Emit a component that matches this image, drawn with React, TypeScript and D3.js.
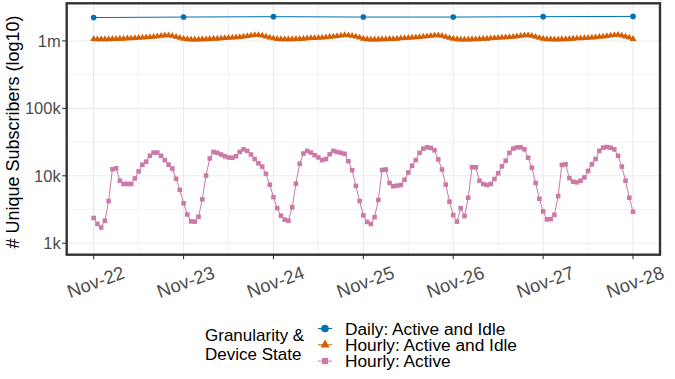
import React from 'react';
import * as d3 from 'd3';

// tick labels / categories
const dayLabels = ['Nov-22', 'Nov-23', 'Nov-24', 'Nov-25', 'Nov-26', 'Nov-27', 'Nov-28'];
const yTickValues = [1e3, 1e4, 1e5, 1e6];
const yTickLabels = ['1k', '10k', '100k', '1m'];
const seriesNames = ['Daily: Active and Idle', 'Hourly: Active and Idle', 'Hourly: Active'];
const seriesColors = ['#0072B2', '#D55E00', '#CC79A7'];

// daily, one value per day (subscribers)
const dailyActiveIdle = [2.22e6, 2.26e6, 2.29e6, 2.26e6, 2.26e6, 2.29e6, 2.31e6];

// hourly active and idle, millions
const hourlyActiveIdle = [
  1.07, 1.06, 1.06, 1.06, 1.06, 1.07, 1.07, 1.08, 1.08, 1.09, 1.09, 1.10, 1.11, 1.12, 1.13, 1.14, 1.15, 1.17, 1.19, 1.21, 1.21, 1.19, 1.15, 1.11,
  1.08, 1.06, 1.05, 1.05, 1.05, 1.06, 1.06, 1.07, 1.08, 1.08, 1.09, 1.10, 1.11, 1.12, 1.13, 1.14, 1.16, 1.18, 1.20, 1.22, 1.22, 1.20, 1.16, 1.12,
  1.09, 1.07, 1.06, 1.06, 1.06, 1.06, 1.07, 1.07, 1.08, 1.09, 1.10, 1.10, 1.11, 1.12, 1.13, 1.15, 1.16, 1.18, 1.20, 1.22, 1.21, 1.19, 1.16, 1.12,
  1.08, 1.06, 1.05, 1.05, 1.05, 1.06, 1.06, 1.07, 1.07, 1.08, 1.09, 1.10, 1.11, 1.12, 1.13, 1.14, 1.16, 1.17, 1.19, 1.21, 1.21, 1.19, 1.15, 1.11,
  1.08, 1.06, 1.05, 1.05, 1.05, 1.06, 1.06, 1.07, 1.08, 1.08, 1.09, 1.10, 1.11, 1.12, 1.13, 1.14, 1.15, 1.17, 1.19, 1.21, 1.21, 1.19, 1.15, 1.11,
  1.08, 1.06, 1.06, 1.05, 1.05, 1.06, 1.06, 1.07, 1.08, 1.09, 1.09, 1.10, 1.11, 1.12, 1.13, 1.15, 1.16, 1.18, 1.20, 1.22, 1.23, 1.20, 1.16, 1.12,
  1.07,
];

// hourly active, thousands
const hourlyActive = [
  2.37, 1.93, 1.71, 2.16, 4.23, 12.5, 12.9, 8.46, 7.56, 7.6, 7.56, 9.15, 11.6, 14.6, 16.2, 19.8, 22.1, 22.1, 19.8, 17.1, 14.6, 12.8, 9.04, 6.18,
  3.91, 2.67, 2.11, 2.09, 2.47, 4.47, 10.1, 18.1, 22.6, 21.9, 20.7, 19.5, 18.7, 18.5, 19.5, 22.6, 24.7, 23.4, 20.7, 17.7, 15.3, 13.7, 10.7, 7.39,
  4.83, 3.31, 2.56, 2.24, 2.16, 3.42, 7.64, 15.1, 21.4, 23.4, 22.1, 20.2, 18.7, 17.1, 17.7, 20.9, 23.4, 22.6, 21.9, 21.2, 16.5, 12.1, 7.08, 4.23,
  2.59, 2.07, 1.93, 2.44, 4.38, 12.2, 12.4, 7.82, 7.0, 7.15, 7.31, 8.75, 11.2, 14.1, 17.1, 21.9, 25.3, 26.4, 25.9, 23.9, 17.5, 12.4, 7.39, 4.14,
  2.61, 2.09, 3.31, 2.53, 4.73, 13.4, 13.4, 8.46, 7.56, 7.31, 7.56, 8.94, 10.9, 13.8, 16.7, 21.9, 25.3, 26.4, 26.4, 24.7, 18.5, 13.2, 7.82, 4.57,
  2.96, 2.26, 2.28, 2.64, 5.0, 14.5, 14.8, 9.25, 8.18, 8.0, 8.46, 9.46, 11.8, 14.8, 17.7, 23.4, 26.1, 26.7, 26.1, 24.7, 19.8, 13.7, 8.46, 4.73,
  2.93,
];

const W = 675;
const H = 379;
const P = { left: 66.7, right: 660, top: 3.3, bottom: 254.7 };
const FONT = '"Liberation Sans", Arial, sans-serif';
const HOUR = 3600 * 1000;
const start = Date.UTC(2021, 10, 22);

const x = d3.scaleUtc()
  .domain([new Date(start - 7.2 * HOUR), new Date(start + 151.2 * HOUR)])
  .range([P.left, P.right]);

const y = d3.scaleLog()
  .domain([Math.pow(10, 2.83), Math.pow(10, 6.558)])
  .range([P.bottom, P.top]);

type Pt = { t: Date; v: number };

const dailyPts: Pt[] = dailyActiveIdle.map((v, i) => ({ t: new Date(start + i * 24 * HOUR), v }));
const idlePts: Pt[] = hourlyActiveIdle.map((v, i) => ({ t: new Date(start + i * HOUR), v: v * 1e6 }));
const activePts: Pt[] = hourlyActive.map((v, i) => ({ t: new Date(start + i * HOUR), v: v * 1e3 }));

const line = d3.line<Pt>().x(d => x(d.t)).y(d => y(d.v));

const symCircle = d3.symbol().type(d3.symbolCircle).size(25)();
const symTriangle = d3.symbol().type(d3.symbolTriangle).size(20)();
const symSquare = d3.symbol().type(d3.symbolSquare).size(21)();
const symbols = [symCircle, symTriangle, symSquare];

const dayTicks = dayLabels.map((_, i) => new Date(start + i * 24 * HOUR));
const minorX = dayLabels.slice(0, -1).map((_, i) => new Date(start + (i + 0.5) * 24 * HOUR));
const minorY = [3.5, 4.5, 5.5, 6.5].map(e => Math.pow(10, e));

const App = () => {
  const series = [dailyPts, idlePts, activePts];
  return (
    <svg width={W} height={H} style={{ position: 'absolute', left: 0, top: 0, background: '#fff' }} fontFamily={FONT}>
      <rect x={0} y={0} width={W} height={H} fill="#fff" />
      {/* grid */}
      <g>
        {minorY.map((v, i) => (
          <line key={'my' + i} x1={P.left} x2={P.right} y1={y(v)} y2={y(v)} stroke="#F0F0F0" strokeWidth={0.8} />
        ))}
        {minorX.map((t, i) => (
          <line key={'mx' + i} x1={x(t)} x2={x(t)} y1={P.top} y2={P.bottom} stroke="#F0F0F0" strokeWidth={0.8} />
        ))}
        {yTickValues.map((v, i) => (
          <line key={'gy' + i} x1={P.left} x2={P.right} y1={y(v)} y2={y(v)} stroke="#EBEBEB" strokeWidth={1.1} />
        ))}
        {dayTicks.map((t, i) => (
          <line key={'gx' + i} x1={x(t)} x2={x(t)} y1={P.top} y2={P.bottom} stroke="#EBEBEB" strokeWidth={1.1} />
        ))}
      </g>
      {/* lines */}
      {series.map((pts, i) => (
        <path key={'l' + i} d={line(pts) || ''} fill="none" stroke={seriesColors[i]} strokeWidth={1} />
      ))}
      {/* points */}
      {series.map((pts, i) => (
        <g key={'p' + i} fill={seriesColors[i]}>
          {pts.map((d, j) => (
            <path key={j} d={symbols[i] || ''} transform={`translate(${x(d.t)},${y(d.v)})`} />
          ))}
        </g>
      ))}
      {/* panel border */}
      <rect x={P.left} y={P.top} width={P.right - P.left} height={P.bottom - P.top} fill="none" stroke="#333333" strokeWidth={2.4} />
      {/* y axis */}
      {yTickValues.map((v, i) => (
        <g key={'yt' + i}>
          <line x1={P.left - 4.5} x2={P.left} y1={y(v)} y2={y(v)} stroke="#333333" strokeWidth={1.1} />
          <text x={P.left - 6} y={y(v)} dy="0.36em" textAnchor="end" fontSize={16.5} fill="#4D4D4D">{yTickLabels[i]}</text>
        </g>
      ))}
      {/* x axis */}
      {dayTicks.map((t, i) => (
        <g key={'xt' + i}>
          <line x1={x(t)} x2={x(t)} y1={P.bottom} y2={P.bottom + 4.5} stroke="#333333" strokeWidth={1.1} />
          <text transform={`translate(${x(t) + 2},${P.bottom + 27}) rotate(-20)`} dy="0.36em" textAnchor="middle" fontSize={18.5} fill="#4D4D4D">{dayLabels[i]}</text>
        </g>
      ))}
      <text transform={`translate(19,${(P.top + P.bottom) / 2 + 3}) rotate(-90)`} textAnchor="middle" fontSize={18} fill="#000">
        # Unique Subscribers (log10)
      </text>
      {/* legend */}
      <g>
        <text x={205} y={341} fontSize={17} fill="#000">Granularity &amp;</text>
        <text x={205} y={359.5} fontSize={17} fill="#000">Device State</text>
        {seriesNames.map((name, i) => {
          const cy = 328.5 + i * 16.3;
          return (
            <g key={'lg' + i}>
              <line x1={318} x2={332} y1={cy} y2={cy} stroke={seriesColors[i]} strokeWidth={1} />
              <path d={symbols[i] || ''} transform={`translate(325,${cy}) scale(1.35)`} fill={seriesColors[i]} />
              <text x={345} y={cy + 6.2} fontSize={17.3} fill="#000">{name}</text>
            </g>
          );
        })}
      </g>
    </svg>
  );
};

export default App;
